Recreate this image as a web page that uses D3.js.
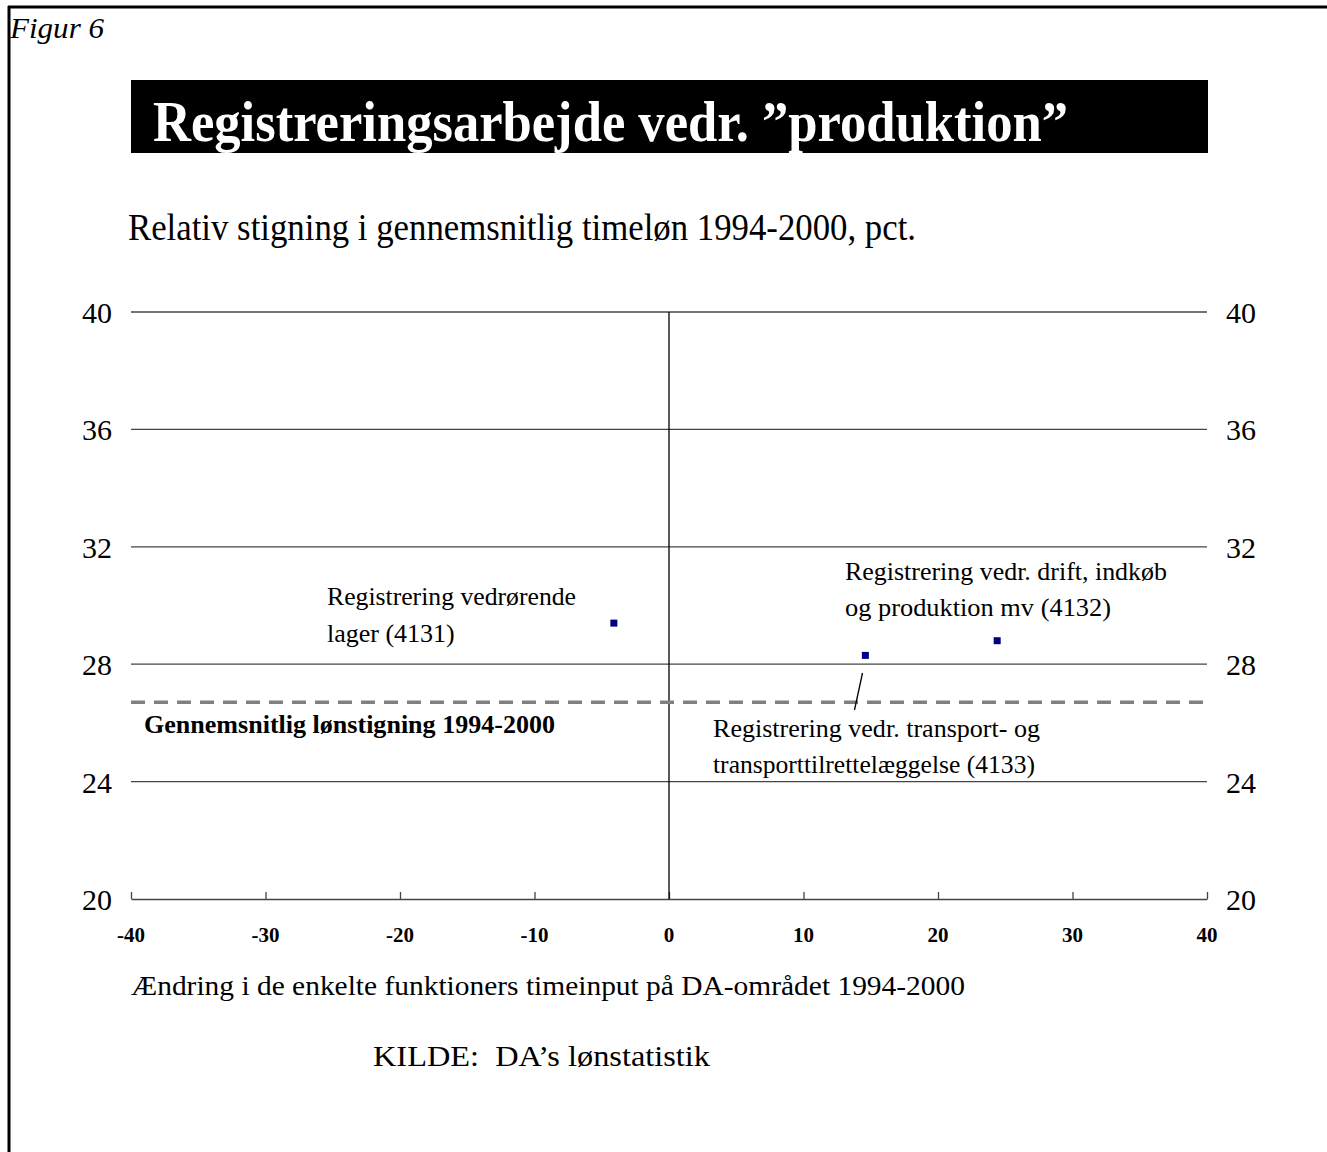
<!DOCTYPE html>
<html>
<head>
<meta charset="utf-8">
<script src="https://d3js.org/d3.v7.min.js"></script>
<style>
  body { margin: 0; background: #fff; }
  svg text { font-family: "Liberation Serif", "Times New Roman", serif; }
</style>
</head>
<body>
<svg id="chart" width="1327" height="1152"></svg>
<script>
// data
var names = ["Registrering vedrørende lager (4131)",
             "Registrering vedr. drift, indkøb og produktion mv (4132)",
             "Registrering vedr. transport- og transporttilrettelæggelse (4133)"]
var timeInput = [-4.1, 24.4, 14.6]
var wageRise = [29.4, 28.8, 28.3]
var avgRise = 26.7
var xTicks = [-40, -30, -20, -10, 0, 10, 20, 30, 40]
var yTicks = [20, 24, 28, 32, 36, 40]

var svg = d3.select("#chart")

// frame (left + top)
svg.append("line").attr("x1", 9).attr("x2", 9).attr("y1", 6).attr("y2", 1152)
  .attr("stroke", "#000").attr("stroke-width", 3)
svg.append("line").attr("x1", 8).attr("x2", 1327).attr("y1", 7).attr("y2", 7)
  .attr("stroke", "#000").attr("stroke-width", 3)

svg.append("text").attr("x", 10).attr("y", 38)
  .attr("textLength", 94).attr("lengthAdjust", "spacingAndGlyphs")
  .style("font-size", "30px").style("font-style", "italic").text("Figur 6")

// title box
svg.append("rect").attr("x", 131).attr("y", 80).attr("width", 1077).attr("height", 73).attr("fill", "#000")
svg.append("text").attr("x", 153).attr("y", 141)
  .attr("textLength", 915).attr("lengthAdjust", "spacingAndGlyphs")
  .style("font-size", "56px").style("font-weight", "bold").attr("fill", "#fff")
  .text("Registreringsarbejde vedr. \u201dproduktion\u201d")

svg.append("text").attr("x", 128).attr("y", 240)
  .attr("textLength", 788).attr("lengthAdjust", "spacingAndGlyphs")
  .style("font-size", "37px").text("Relativ stigning i gennemsnitlig timeløn 1994-2000, pct.")

var x = d3.scaleLinear().domain([-40, 40]).range([131, 1207])
var y = d3.scaleLinear().domain([20, 40]).range([899, 312])

// horizontal gridlines
svg.selectAll(".grid").data(yTicks.filter(function(d){ return d > 20 })).enter()
  .append("line")
  .attr("x1", x(-40)).attr("x2", x(40))
  .attr("y1", function(d){ return y(d) }).attr("y2", function(d){ return y(d) })
  .attr("stroke", "#444").attr("stroke-width", 1.3)

// y labels both sides
svg.selectAll(".yl").data(yTicks).enter().append("text")
  .attr("x", 112).attr("y", function(d){ return y(d) + 11 })
  .attr("text-anchor", "end").style("font-size", "30px").text(function(d){ return d })
svg.selectAll(".yr").data(yTicks).enter().append("text")
  .attr("x", 1226).attr("y", function(d){ return y(d) + 11 })
  .style("font-size", "30px").text(function(d){ return d })

// x axis
var xAxis = d3.axisBottom(x).tickValues(xTicks).tickSize(7).tickSizeOuter(0).tickFormat("")
var gx = svg.append("g").attr("transform", "translate(0," + y(20) + ")").call(xAxis)
gx.select(".domain").attr("stroke", "#444").attr("stroke-width", 1.3)
gx.selectAll(".tick line").attr("stroke", "#444").attr("stroke-width", 1.3).attr("y1", 0).attr("y2", -7)
svg.selectAll(".xl").data(xTicks).enter().append("text")
  .attr("x", function(d){ return x(d) }).attr("y", 942)
  .attr("text-anchor", "middle").style("font-size", "21px").style("font-weight", "bold")
  .text(function(d){ return d })

// vertical zero line
svg.append("line").attr("x1", x(0)).attr("x2", x(0)).attr("y1", y(40)).attr("y2", y(20))
  .attr("stroke", "#000").attr("stroke-width", 1.3)

// average line
svg.append("line").attr("x1", x(-40)).attr("x2", x(40))
  .attr("y1", y(avgRise)).attr("y2", y(avgRise))
  .attr("stroke", "#808080").attr("stroke-width", 3.5).attr("stroke-dasharray", "14,9")
svg.append("text").attr("x", 144).attr("y", 733)
  .attr("textLength", 411).attr("lengthAdjust", "spacingAndGlyphs")
  .style("font-size", "25px").style("font-weight", "bold").text("Gennemsnitlig lønstigning 1994-2000")

// points
svg.selectAll(".pt").data(timeInput).enter().append("rect")
  .attr("x", function(d){ return x(d) - 3.5 })
  .attr("y", function(d, i){ return y(wageRise[i]) - 3.5 })
  .attr("width", 7).attr("height", 7).attr("fill", "#000080")

// labels
var labelLines = [
  [["Registrering vedrørende", 327, 605, 249], ["lager (4131)", 327, 642, 0]],
  [["Registrering vedr. drift, indkøb", 845, 580, 322], ["og produktion mv (4132)", 845, 616, 266]],
  [["Registrering vedr. transport- og", 713, 737, 327], ["transporttilrettelæggelse (4133)", 713, 773, 322]]
]
labelLines.forEach(function(lines){
  lines.forEach(function(l){
    var t = svg.append("text").attr("x", l[1]).attr("y", l[2]).style("font-size", "26px").text(l[0])
    if (l[3]) t.attr("textLength", l[3]).attr("lengthAdjust", "spacingAndGlyphs")
  })
})
svg.append("line").attr("x1", 862.5).attr("y1", 673).attr("x2", 854.5).attr("y2", 710)
  .attr("stroke", "#000").attr("stroke-width", 1.3)

svg.append("text").attr("x", 131).attr("y", 995)
  .attr("textLength", 834).attr("lengthAdjust", "spacingAndGlyphs")
  .style("font-size", "28px").text("Ændring i de enkelte funktioners timeinput på DA-området 1994-2000")

svg.append("text").attr("x", 373).attr("y", 1066).attr("xml:space", "preserve")
  .attr("textLength", 337).attr("lengthAdjust", "spacingAndGlyphs")
  .style("font-size", "30px").text("KILDE:  DA\u2019s lønstatistik")
</script>
</body>
</html>
